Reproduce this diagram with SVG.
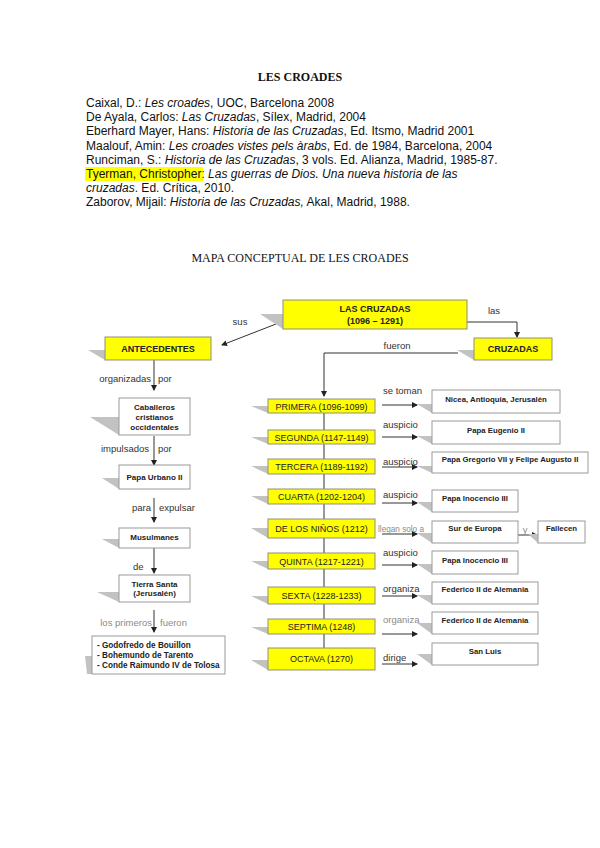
<svg xmlns="http://www.w3.org/2000/svg" width="600" height="848" viewBox="0 0 600 848">
<style>
.bg{fill:#ffffff}
.ttl{font-family:"Liberation Serif","Times New Roman",serif;font-size:12px;fill:#111}
.bib{font-family:"Liberation Sans",Arial,sans-serif;font-size:12px;fill:#111}
.it{font-style:italic}
.yb{fill:#ffff00;stroke:#8f8f7a;stroke-width:1}
.wb{fill:#ffffff;stroke:#9a9a9a;stroke-width:1}
.sh{fill:#c2c2c2}
.yt{font-family:"Liberation Sans",Arial,sans-serif;font-size:9px;fill:#222;text-anchor:middle}
.ybt{font-family:"Liberation Sans",Arial,sans-serif;font-size:9px;font-weight:bold;fill:#222;text-anchor:middle}
.wt{font-family:"Liberation Sans",Arial,sans-serif;font-size:7.8px;font-weight:bold;fill:#222;text-anchor:middle}
.lwt{font-family:"Liberation Sans",Arial,sans-serif;font-size:8px;font-weight:bold;fill:#222;text-anchor:middle}
.lt{font-family:"Liberation Sans",Arial,sans-serif;font-size:8.2px;font-weight:bold;fill:#222}
.lb{font-family:"Liberation Sans",Arial,sans-serif;font-size:9.5px;fill:#333}
.lg{font-family:"Liberation Sans",Arial,sans-serif;font-size:9.5px;fill:#8a8a8a}
.cn{fill:none;stroke:#333;stroke-width:1}
</style>
<defs>
<marker id="ah" markerWidth="6" markerHeight="6" refX="5" refY="3" orient="auto" markerUnits="userSpaceOnUse">
<path d="M0,0 L6,3 L0,6 Z" fill="#222"/>
</marker>
</defs>
<rect class="bg" x="0" y="0" width="600" height="848"/>

<g id="header">
<text class="ttl" x="300" y="81" text-anchor="middle" font-weight="bold">LES CROADES</text>
<rect x="85" y="167" width="118" height="14" fill="#ffff00"/>
<text class="bib" x="86" y="107">Caixal, D.: <tspan class="it">Les croades</tspan>, UOC, Barcelona 2008</text>
<text class="bib" x="86" y="121.2">De Ayala, Carlos: <tspan class="it">Las Cruzadas</tspan>, Sílex, Madrid, 2004</text>
<text class="bib" x="86" y="135.4">Eberhard Mayer, Hans: <tspan class="it">Historia de las Cruzadas</tspan>, Ed. Itsmo, Madrid 2001</text>
<text class="bib" x="86" y="149.6">Maalouf, Amin: <tspan class="it">Les croades vistes pels àrabs</tspan>, Ed. de 1984, Barcelona, 2004</text>
<text class="bib" x="86" y="163.8">Runciman, S.: <tspan class="it">Historia de las Cruzadas</tspan>, 3 vols. Ed. Alianza, Madrid, 1985-87.</text>
<text class="bib" x="86" y="178">Tyerman, Christopher: <tspan class="it">Las guerras de Dios. Una nueva historia de las</tspan></text>
<text class="bib" x="86" y="192.2"><tspan class="it">cruzadas</tspan>. Ed. Crítica, 2010.</text>
<text class="bib" x="86" y="206.4">Zaborov, Mijail: <tspan class="it">Historia de las Cruzadas,</tspan> Akal, Madrid, 1988.</text>
<text class="ttl" x="300" y="262" text-anchor="middle">MAPA CONCEPTUAL DE LES CROADES</text>
</g>

<g id="connectors">
<line class="cn" x1="276" y1="324" x2="222" y2="345" marker-end="url(#ah)"/>
<text class="lb" x="240" y="325" text-anchor="middle">sus</text>
<polyline class="cn" points="467,322 517,322 517,337" marker-end="url(#ah)"/>
<text class="lb" x="494" y="314" text-anchor="middle">las</text>
<polyline class="cn" points="458,353 324,353 324,396" marker-end="url(#ah)"/>
<text class="lb" x="397" y="349" text-anchor="middle">fueron</text>
<line class="cn" x1="324" y1="413" x2="324" y2="648"/>

<line class="cn" x1="154" y1="360" x2="154" y2="390" marker-end="url(#ah)"/>
<text class="lb" x="151" y="382" text-anchor="end">organizadas</text>
<text class="lb" x="158" y="382">por</text>
<line class="cn" x1="154" y1="436" x2="154" y2="465" marker-end="url(#ah)"/>
<text class="lb" x="149" y="452" text-anchor="end">impulsados</text>
<text class="lb" x="158" y="452">por</text>
<line class="cn" x1="154" y1="498" x2="154" y2="522" marker-end="url(#ah)"/>
<text class="lb" x="151" y="511" text-anchor="end">para</text>
<text class="lb" x="159" y="511">expulsar</text>
<line class="cn" x1="154" y1="548" x2="154" y2="573" marker-end="url(#ah)"/>
<text class="lb" x="133" y="570">de</text>
<line class="cn" x1="154" y1="610" x2="154" y2="632" marker-end="url(#ah)"/>
<text class="lg" x="152" y="626" text-anchor="end">los primeros</text>
<text class="lg" x="160" y="626">fueron</text>

<line class="cn" x1="382" y1="405" x2="417" y2="405" marker-end="url(#ah)"/>
<text class="lb" x="383" y="394">se toman</text>
<line class="cn" x1="382" y1="437" x2="417" y2="437" marker-end="url(#ah)"/>
<text class="lb" x="383" y="428">auspicio</text>
<line class="cn" x1="382" y1="467" x2="417" y2="467" marker-end="url(#ah)"/>
<text class="lb" x="383" y="465">auspicio</text>
<line class="cn" x1="382" y1="503" x2="417" y2="503" marker-end="url(#ah)"/>
<text class="lb" x="383" y="498">auspicio</text>
<line class="cn" x1="382" y1="534" x2="417" y2="534" marker-end="url(#ah)"/>
<line class="cn" x1="518" y1="535" x2="537" y2="535" marker-end="url(#ah)"/>
<text class="lg" x="525" y="533" text-anchor="middle">y</text>
<line class="cn" x1="382" y1="565" x2="417" y2="565" marker-end="url(#ah)"/>
<text class="lb" x="383" y="556">auspicio</text>
<line class="cn" x1="382" y1="596" x2="417" y2="596" marker-end="url(#ah)"/>
<text class="lb" x="383" y="592">organiza</text>
<line class="cn" x1="382" y1="634" x2="417" y2="634" marker-end="url(#ah)"/>
<text class="lg" x="383" y="623">organiza</text>
<line class="cn" x1="382" y1="664" x2="417" y2="664" marker-end="url(#ah)"/>
<text class="lb" x="383" y="661">dirige</text>
</g>

<g id="las-cruzadas">
<polygon class="sh" points="260,314 283,314 283,329"/>
<rect class="yb" x="283" y="300" width="184" height="29"/>
<text class="ybt" x="375" y="312">LAS CRUZADAS</text>
<text class="ybt" x="375" y="323.5">(1096 – 1291)</text>
</g>
<g id="antecedentes">
<polygon class="sh" points="88,350 105,350 105,360"/>
<rect class="yb" x="105" y="337" width="106" height="23"/>
<text class="ybt" x="158" y="351.5">ANTECEDENTES</text>
</g>
<g id="cruzadas">
<polygon class="sh" points="457,350 474,350 474,360"/>
<rect class="yb" x="474" y="338" width="78" height="22"/>
<text class="ybt" x="513" y="352">CRUZADAS</text>
</g>

<g id="caballeros">
<polygon class="sh" points="90,417 119,417 119,435"/>
<rect class="wb" x="119" y="398" width="71" height="37"/>
<text class="lwt" x="154.5" y="409.5">Caballeros</text>
<text class="lwt" x="154.5" y="419.5">cristianos</text>
<text class="lwt" x="154.5" y="429.5">occidentales</text>
</g>
<g id="urbano">
<polygon class="sh" points="102,478 119,478 119,489"/>
<rect class="wb" x="119" y="465" width="71" height="24"/>
<text class="lwt" x="154.5" y="479.5">Papa Urbano II</text>
</g>
<g id="musulmanes">
<polygon class="sh" points="102,539 119,539 119,548"/>
<rect class="wb" x="119" y="528" width="71" height="20"/>
<text class="lwt" x="154.5" y="539.5">Musulmanes</text>
</g>
<g id="tierra-santa">
<polygon class="sh" points="97,592 119,592 119,602"/>
<rect class="wb" x="119" y="575" width="71" height="27"/>
<text class="lwt" x="154.5" y="586.5">Tierra Santa</text>
<text class="lwt" x="154.5" y="595.5">(Jerusalén)</text>
</g>
<g id="primeros">
<polygon class="sh" points="85,656 92,656 92,674 87,674"/>
<rect class="wb" x="92" y="636" width="133" height="38"/>
<text class="lt" x="97" y="647.5">- Godofredo de Bouillon</text>
<text class="lt" x="97" y="657.5">- Bohemundo de Tarento</text>
<text class="lt" x="97" y="667.5">- Conde Raimundo IV de Tolosa</text>
</g>

<g id="primera">
<polygon class="sh" points="251,406 268,406 268,413"/>
<rect class="yb" x="268" y="399" width="107" height="14"/>
<text class="yt" x="321.5" y="409.5">PRIMERA (1096-1099)</text>
</g>
<g id="segunda">
<polygon class="sh" points="251,437 268,437 268,444"/>
<rect class="yb" x="268" y="430" width="107" height="14"/>
<text class="yt" x="321.5" y="440.5">SEGUNDA (1147-1149)</text>
</g>
<g id="tercera">
<polygon class="sh" points="251,466 268,466 268,474"/>
<rect class="yb" x="268" y="459" width="107" height="15"/>
<text class="yt" x="321.5" y="470">TERCERA (1189-1192)</text>
</g>
<g id="cuarta">
<polygon class="sh" points="251,496 268,496 268,504"/>
<rect class="yb" x="268" y="489" width="107" height="15"/>
<text class="yt" x="321.5" y="500">CUARTA (1202-1204)</text>
</g>
<g id="ninos">
<polygon class="sh" points="251,528 268,528 268,538"/>
<rect class="yb" x="268" y="519" width="107" height="19"/>
<text class="yt" x="321.5" y="532">DE LOS NIÑOS (1212)</text>
</g>
<g id="quinta">
<polygon class="sh" points="251,561 268,561 268,569"/>
<rect class="yb" x="268" y="553" width="107" height="16"/>
<text class="yt" x="321.5" y="564.5">QUINTA (1217-1221)</text>
</g>
<g id="sexta">
<polygon class="sh" points="251,596 268,596 268,604"/>
<rect class="yb" x="268" y="587" width="107" height="17"/>
<text class="yt" x="321.5" y="598.5">SEXTA (1228-1233)</text>
</g>
<g id="septima">
<polygon class="sh" points="251,627 268,627 268,634"/>
<rect class="yb" x="268" y="619" width="107" height="15"/>
<text class="yt" x="321.5" y="630">SEPTIMA (1248)</text>
</g>
<g id="octava">
<polygon class="sh" points="251,660 268,660 268,670"/>
<rect class="yb" x="268" y="648" width="107" height="22"/>
<text class="yt" x="321.5" y="662">OCTAVA (1270)</text>
</g>

<g id="nicea">
<polygon class="sh" points="417,404 432,404 432,413"/>
<rect class="wb" x="432" y="390" width="128" height="23"/>
<text class="wt" x="496" y="401.5">Nicea, Antioquia, Jerusalén</text>
</g>
<g id="eugenio">
<polygon class="sh" points="417,436 432,436 432,444"/>
<rect class="wb" x="432" y="421" width="128" height="23"/>
<text class="wt" x="496" y="432.5">Papa Eugenio II</text>
</g>
<g id="gregorio">
<polygon class="sh" points="417,466 432,466 432,473"/>
<rect class="wb" x="432" y="452" width="156" height="21"/>
<text class="wt" x="510" y="462">Papa Gregorio VII y Felipe Augusto II</text>
</g>
<g id="inocencio1">
<polygon class="sh" points="417,502 432,502 432,512"/>
<rect class="wb" x="432" y="490" width="86" height="22"/>
<text class="wt" x="475" y="500.5">Papa Inocencio III</text>
</g>
<g id="sur-europa">
<polygon class="sh" points="417,533 432,533 432,543"/>
<rect class="wb" x="432" y="521" width="86" height="22"/>
<text class="wt" x="475" y="531">Sur de Europa</text>
</g>
<g id="fallecen">
<polygon class="sh" points="528,534 538,534 538,543"/>
<rect class="wb" x="538" y="521" width="47" height="22"/>
<text class="wt" x="561.5" y="531">Fallecen</text>
</g>
<g id="inocencio2">
<polygon class="sh" points="417,564 432,564 432,574"/>
<rect class="wb" x="432" y="551" width="86" height="23"/>
<text class="wt" x="475" y="562.5">Papa Inocencio III</text>
</g>
<g id="federico1">
<polygon class="sh" points="417,595 432,595 432,604"/>
<rect class="wb" x="432" y="582" width="106" height="22"/>
<text class="wt" x="485" y="592">Federico II de Alemania</text>
</g>
<g id="federico2">
<polygon class="sh" points="417,623 432,623 432,634"/>
<rect class="wb" x="432" y="612" width="106" height="22"/>
<text class="wt" x="485" y="622.5">Federico II de Alemania</text>
</g>
<g id="san-luis">
<polygon class="sh" points="417,654 432,654 432,665"/>
<rect class="wb" x="432" y="643" width="106" height="22"/>
<text class="wt" x="485" y="653.5">San Luis</text>
</g>

<g id="label-llegan">
<text class="lg" x="378" y="532" font-size="9" textLength="46" lengthAdjust="spacingAndGlyphs">llegan solo a</text>
</g>
</svg>
